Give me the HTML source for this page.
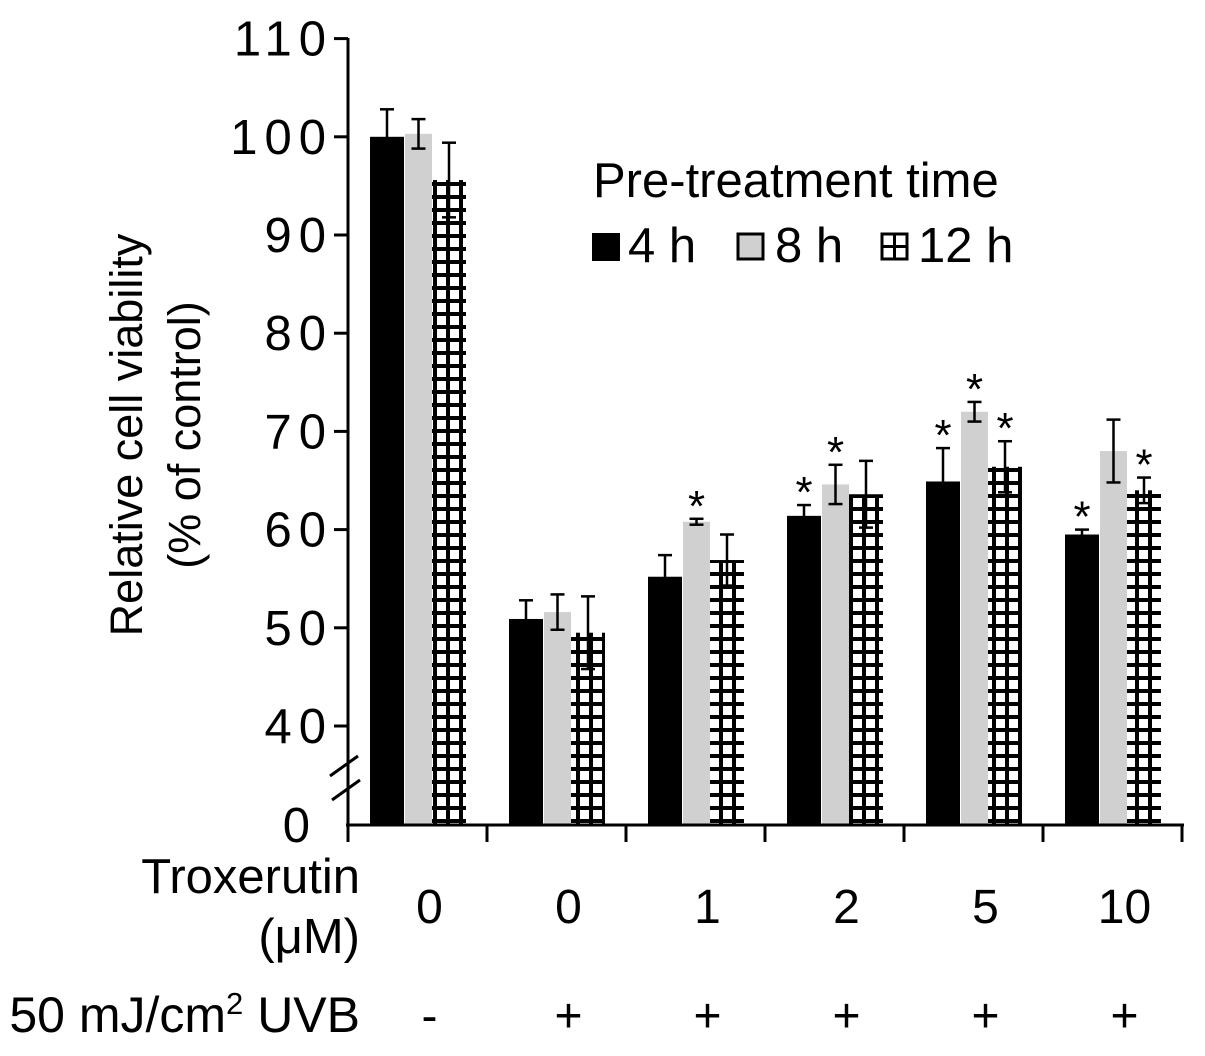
<!DOCTYPE html>
<html><head><meta charset="utf-8"><style>
body{margin:0;background:#fff}
text{font-family:"Liberation Sans",Arial,sans-serif;fill:#000}
</style></head><body>
<svg id="chart" width="1205" height="1051" viewBox="0 0 1205 1051" xmlns="http://www.w3.org/2000/svg">
<defs>
<pattern id="hatch" patternUnits="userSpaceOnUse" width="13" height="13" x="433" y="0">
<rect width="13" height="13" fill="#fff"/>
<rect x="0" y="0" width="4" height="13" fill="#000"/>
<rect x="0" y="0" width="13" height="4" fill="#000"/>
</pattern>
</defs>
<g id="bars"></g>
<g id="axes"></g>
<g transform="translate(142,435) rotate(-90)">
<text x="0" y="0" font-size="45" text-anchor="middle">Relative cell viability</text>
<text x="0" y="58" font-size="45" text-anchor="middle">(% of control)</text>
</g>
<g>
<text x="593" y="197" font-size="49">Pre-treatment time</text>
<rect x="592" y="233" width="28" height="28" fill="#000"/>
<text x="628" y="262" font-size="49">4 h</text>
<rect x="738" y="234" width="25" height="25" fill="#d0d0d0" stroke="#000" stroke-width="3"/>
<text x="775" y="262" font-size="49">8 h</text>
<rect x="882" y="234" width="25" height="25" fill="#fff" stroke="#000" stroke-width="3"/>
<line x1="894.5" y1="234" x2="894.5" y2="259" stroke="#000" stroke-width="3"/>
<line x1="882" y1="246.5" x2="907" y2="246.5" stroke="#000" stroke-width="3"/>
<text x="918" y="262" font-size="49">12 h</text>
</g>
<text x="360" y="893" font-size="49" text-anchor="end">Troxerutin</text>
<text x="360" y="953" font-size="49" text-anchor="end">(μM)</text>
<text x="360" y="1032" font-size="50" text-anchor="end">50 mJ/cm<tspan font-size="31" dy="-18">2</tspan><tspan dy="18"> UVB</tspan></text>
</svg>
<script>
const doses=["0","0","1","2","5","10"];
const uvb=["-","+","+","+","+","+"];
const v4=[100,50.9,55.2,61.4,64.9,59.5];
const e4=[2.8,1.9,2.2,1.1,3.4,0.5];
const v8=[100.3,51.6,60.8,64.6,72,68];
const e8=[1.5,1.8,0.3,2.0,1.0,3.2];
const v12=[95.6,49.5,56.9,63.6,66.4,64];
const e12=[3.8,3.7,2.6,3.4,2.6,1.3];
const sig4=[0,0,0,1,1,1];
const sig8=[0,0,1,1,1,0];
const sig12=[0,0,0,0,1,1];
const yTicks=[40,50,60,70,80,90,100,110];
const NS="http://www.w3.org/2000/svg";
const x0=348,gw=139,axisY=825;
function y(v){return v<40?axisY:726-(v-40)*9.82;}
function el(t,a,p){const e=document.createElementNS(NS,t);for(const k in a)e.setAttribute(k,a[k]);p.appendChild(e);return e;}
const bars=document.getElementById('bars'),axes=document.getElementById('axes');
const series=[{v:v4,e:e4,s:sig4,off:22,w:34,fill:"#000",name:"4h"},{v:v8,e:e8,s:sig8,off:57,w:27,fill:"#d0d0d0",name:"8h"},{v:v12,e:e12,s:sig12,off:84,w:34,fill:"url(#hatch)",name:"12h"}];
series.forEach(sr=>{sr.v.forEach((val,i)=>{
 const bx=x0+i*gw+sr.off,top=y(val);
 const r=el('rect',{x:bx,y:top,width:sr.w,height:axisY-top,fill:sr.fill},bars);
 
 
 const cx=bx+sr.w/2,hi=y(val+sr.e[i]),lo=y(val-sr.e[i]);
 const g=el('g',{stroke:"#000","stroke-width":2.5},bars);
 
 
 el('line',{x1:cx,y1:hi,x2:cx,y2:lo},g);
 el('line',{x1:cx-7,y1:hi,x2:cx+7,y2:hi},g);
 el('line',{x1:cx-7,y1:lo,x2:cx+7,y2:lo},g);
 if(sr.s[i]){const t=el('text',{x:cx,y:hi+2,"font-size":44,"text-anchor":"middle"},bars);t.textContent="*";
 
 }
});});
el('line',{x1:x0,y1:38,x2:x0,y2:axisY+2,stroke:"#000","stroke-width":3},axes);
el('line',{x1:x0-2,y1:axisY,x2:x0+6*gw+2,y2:axisY,stroke:"#000","stroke-width":3},axes);
yTicks.forEach(t=>{el('line',{x1:x0-14,y1:y(t),x2:x0,y2:y(t),stroke:"#000","stroke-width":3},axes);
 const tx=el('text',{x:333,y:y(t)+17,"font-size":49,"letter-spacing":"7","text-anchor":"end"},axes);tx.textContent=t;
 
 });
const z=el('text',{x:310,y:axisY+17,"font-size":49,"text-anchor":"end"},axes);z.textContent="0";


el('rect',{x:324,y:755,width:22,height:50,fill:"#fff"},axes);
el('line',{x1:x0,y1:740,x2:x0,y2:770,stroke:"#000","stroke-width":3},axes);
el('line',{x1:x0,y1:790,x2:x0,y2:825,stroke:"#000","stroke-width":3},axes);
el('line',{x1:330,y1:776,x2:358,y2:756,stroke:"#000","stroke-width":3},axes);
el('line',{x1:332,y1:800,x2:360,y2:780,stroke:"#000","stroke-width":3},axes);
for(let i=0;i<=6;i++)el('line',{x1:x0+i*gw,y1:axisY,x2:x0+i*gw,y2:axisY+17,stroke:"#000","stroke-width":3},axes);
doses.forEach((d,i)=>{const cx=x0+i*gw+gw/2+12;
 const t=el('text',{x:cx,y:923,"font-size":48,"text-anchor":"middle"},axes);t.textContent=d;
 
 
 const u=el('text',{x:cx,y:1032,"font-size":48,"text-anchor":"middle"},axes);u.textContent=uvb[i];
 
 });
</script>
</body></html>
